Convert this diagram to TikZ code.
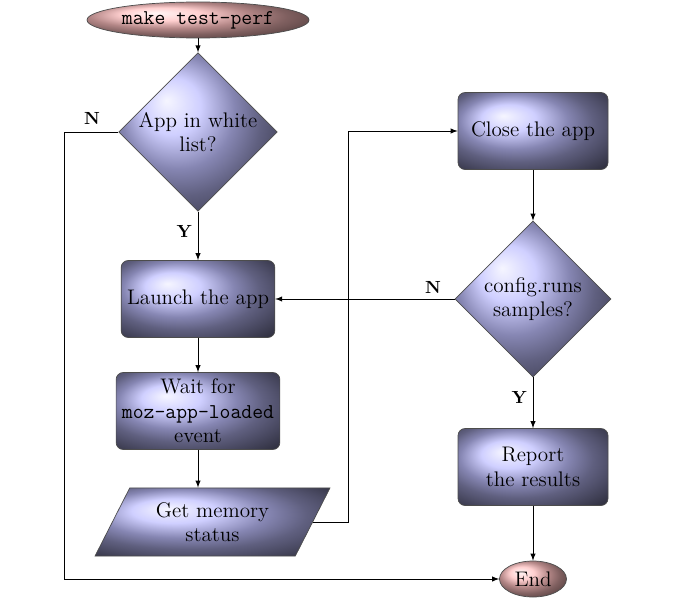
\documentclass[tikz,border=0pt]{standalone}
\usetikzlibrary{shapes.geometric,arrows}
\tikzset{
  block/.style={rectangle, rounded corners=4pt, draw=black!70, shading=ball, ball color=blue!25!white,
    minimum width=3cm, minimum height=1.54cm, align=center, font=\large},
  decision/.style={diamond, draw=black!70, shading=ball, ball color=blue!25!white,
    minimum width=3.12cm, minimum height=3.12cm, align=center, inner sep=0pt, font=\large},
  terminal/.style={ellipse, draw=black!70, shading=ball, ball color=red!25!white, inner sep=0pt, font=\large},
  iobox/.style={trapezium, trapezium left angle=63, trapezium right angle=117, draw=black!70,
    shading=ball, ball color=blue!25!white, minimum width=4.7cm, minimum height=1.1cm, align=center, font=\large},
  line/.style={draw, -latex}
}
\begin{document}
\begin{tikzpicture}
  \useasboundingbox (0,0) rectangle (13.54,-11.98);
  % Left column
  \node[terminal, minimum width=4.44cm, minimum height=0.72cm] (start) at (3.96,-0.4) {\texttt{make test-perf}};
  \node[decision] (white) at (3.96,-2.64) {App in white\\list?};
  \node[block] (launch) at (3.96,-5.98) {Launch the app};
  \node[block] (wait) at (3.96,-8.22) {Wait for\\\texttt{moz-app-loaded}\\event};
  \node[iobox] (memory) at (4.25,-10.44) {Get memory\\status};
  % Right column
  \node[block] (close) at (10.66,-2.62) {Close the app};
  \node[decision] (runs) at (10.66,-5.98) {config.runs\\samples?};
  \node[block] (report) at (10.66,-9.34) {Report\\the results};
  \node[terminal, minimum width=1.34cm, minimum height=0.72cm] (end) at (10.66,-11.58) {End};
  \coordinate (leftlane) at (1.28,0);
  \coordinate (midlane) at (6.96,0);

  % Connectors
  \path[line] (start) -- (white);
  \path[line] (white) -- node[left, pos=0.4] {\textbf{Y}} (launch);
  \path[line] (white.west) -- (white.west -| leftlane) |- (end);
  \node at (1.84,-2.36) {\textbf{N}};
  \path[line] (launch) -- (wait);
  \path[line] (wait) -- (wait |- memory.north);
  \path[line] (memory.east) -- (memory.east -| midlane) |- (close);
  \path[line] (close) -- (runs);
  \path[line] (runs) -- (launch);
  \node at (8.66,-5.74) {\textbf{N}};
  \path[line] (runs) -- node[left, pos=0.4] {\textbf{Y}} (report);
  \path[line] (report) -- (end);
\end{tikzpicture}
\end{document}
